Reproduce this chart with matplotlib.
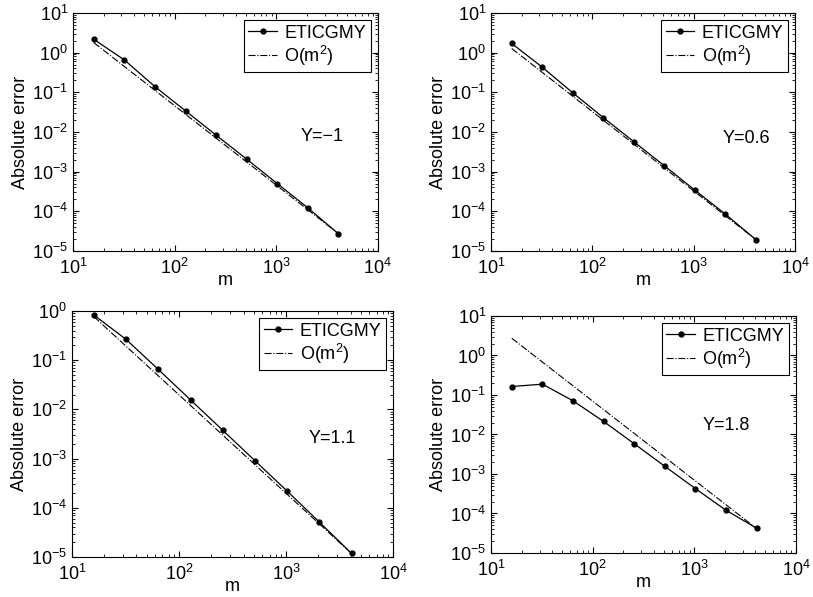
import numpy as np
import matplotlib
matplotlib.use('Agg')
import matplotlib.pyplot as plt
from matplotlib.ticker import LogLocator

plt.rcParams['font.family'] = ['Liberation Sans', 'DejaVu Sans']
plt.rcParams['mathtext.fontset'] = 'custom'
plt.rcParams['mathtext.rm'] = 'Liberation Sans'
plt.rcParams['mathtext.it'] = 'Liberation Sans:italic'

# grid sizes
m = [16, 32, 64, 128, 256, 512, 1024, 2048, 4096]

# absolute errors
err_ym1 = [2.17, 0.655, 0.139, 0.034, 0.0083, 0.00206, 0.0005, 0.000122, 2.7e-5]
err_y06 = [1.7, 0.43, 0.097, 0.0231, 0.0057, 0.00141, 0.000343, 8.5e-5, 1.94e-5]
err_y11 = [0.83, 0.265, 0.0649, 0.0156, 0.00376, 0.000906, 0.000218, 5.1e-5, 1.18e-5]
err_y18 = [0.164, 0.188, 0.0714, 0.0214, 0.00586, 0.00157, 0.000428, 0.000121, 4.26e-5]

# O(m^2) reference lines (end points)
ref_m = [16, 4096]
ref_ym1 = [1.79, 2.73e-5]
ref_y06 = [1.27, 1.94e-5]
ref_y11 = [0.77, 1.17e-5]
ref_y18 = [2.73, 4.17e-5]

panels = [
    # (rect, errors, reference, label, ylim, label pos)
    ([0.0898, 0.5796, 0.375, 0.3987], err_ym1, ref_ym1, 'Y=\u22121', (1e-5, 10), (0.816, 0.479)),
    ([0.6040, 0.5796, 0.374, 0.3987], err_y06, ref_y06, 'Y=0.6', (1e-5, 10), (0.841, 0.471)),
    ([0.0886, 0.0670, 0.395, 0.4120], err_y11, ref_y11, 'Y=1.1', (1e-5, 1), (0.809, 0.482)),
    ([0.6040, 0.0737, 0.375, 0.3970], err_y18, ref_y18, 'Y=1.8', (1e-5, 10), (0.773, 0.540)),
]

fig = plt.figure(figsize=(8.13, 5.97), dpi=100)

for rect, err, ref, label, ylim, pos in panels:
    ax = fig.add_axes(rect)
    ax.loglog(m, err, '-', color='black', marker='o', markersize=3.5,
              linewidth=0.9, label='ETICGMY')
    ax.loglog(ref_m, ref, '-.', color='black', linewidth=0.8,
              label='O(m$^2$)')
    ax.set_xlim(10, 1e4)
    ax.set_ylim(*ylim)
    ax.yaxis.set_major_locator(LogLocator(base=10, numticks=20))
    ax.yaxis.set_minor_locator(LogLocator(base=10, subs=np.arange(2, 10), numticks=20))
    ax.xaxis.set_major_locator(LogLocator(base=10, numticks=20))
    ax.xaxis.set_minor_locator(LogLocator(base=10, subs=np.arange(2, 10), numticks=20))
    ax.set_xlabel('m', fontsize=13, labelpad=-4)
    ax.set_ylabel('Absolute error', fontsize=13, labelpad=2)
    ax.tick_params(which='both', direction='in', top=True, right=True,
                   labelsize=13)
    ax.tick_params(axis='x', pad=5)
    ax.tick_params(which='major', length=4)
    ax.tick_params(which='minor', length=2)
    ax.text(pos[0], pos[1], label, transform=ax.transAxes,
            ha='center', va='center', fontsize=13)
    leg = ax.legend(loc='upper right', fontsize=13, fancybox=False,
                    framealpha=1, edgecolor='black', handlelength=1.6,
                    borderpad=0.25, labelspacing=0.1, handletextpad=0.4,
                    borderaxespad=0.4)
    leg.get_frame().set_linewidth(0.8)
    for s in ax.spines.values():
        s.set_linewidth(0.8)

plt.savefig('out.png', dpi=100, facecolor='white')
